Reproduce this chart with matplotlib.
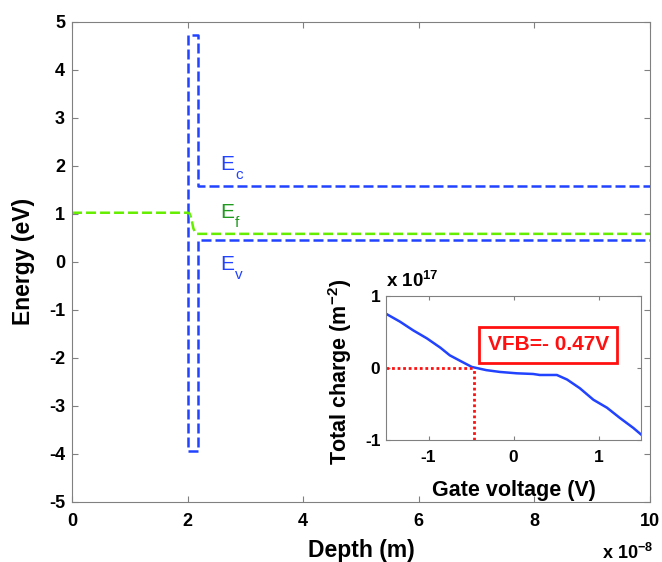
import numpy as np
import matplotlib
matplotlib.use("Agg")
import matplotlib.pyplot as plt

plt.rcParams['font.family'] = ['Liberation Sans', 'DejaVu Sans']
plt.rcParams['mathtext.fontset'] = 'custom'
plt.rcParams['mathtext.rm'] = 'Liberation Sans'
plt.rcParams['mathtext.bf'] = 'Liberation Sans:bold'
plt.rcParams['mathtext.it'] = 'Liberation Sans:italic'
plt.rcParams['axes.unicode_minus'] = False

# band diagram (depth in units of 1e-8 m, energy in eV)
ec_x = [2.0, 2.0, 2.18, 2.18, 10.0]
ec_y = [1.02, 4.73, 4.73, 1.58, 1.58]
ev_x = [2.0, 2.0, 2.18, 2.18, 10.0]
ev_y = [1.02, -3.95, -3.95, 0.46, 0.46]
ef_x = [0.0, 2.0, 2.03, 2.05, 2.07, 2.10, 2.13, 2.16, 10.0]
ef_y = [1.02, 1.02, 1.01, 0.95, 0.86, 0.69, 0.61, 0.58, 0.58]

# inset: total charge (x 1e17 m^-2) vs gate voltage (V)
vg = [-1.5, -1.335, -1.18, -1.02, -0.86, -0.75, -0.63, -0.49, -0.32, -0.16,
      0.04, 0.23, 0.31, 0.51, 0.63, 0.78, 0.94, 1.10, 1.25, 1.41, 1.5]
qt = [0.75, 0.64, 0.52, 0.41, 0.28, 0.175, 0.10, 0.014, -0.03, -0.055,
      -0.074, -0.083, -0.097, -0.097, -0.16, -0.28, -0.44, -0.55, -0.69, -0.83, -0.92]
vfb = -0.47

blue = '#2142ff'
lime = '#66ee00'
dkgreen = '#1f9a1f'
red = '#ff1010'
gray = '#808080'

fig = plt.figure(figsize=(6.62, 5.62), dpi=100)
ax = fig.add_axes([0.1088, 0.1073, 0.8731, 0.8541])

ax.plot(ec_x, ec_y, color=blue, lw=1.8, ls=(0, (4, 1.6)))
ax.plot(ev_x, ev_y, color=blue, lw=1.8, ls=(0, (4, 1.6)))
ax.plot(ef_x, ef_y, color=lime, lw=1.8, ls=(0, (4, 1.6)))

# band labels: big E with a dropped subscript
band_labels = [('c', 1.90, blue), ('f', 0.90, dkgreen), ('v', -0.18, blue)]
for sub, yb, col in band_labels:
    ax.text(2.57, yb, 'E', color=col, fontsize=15, va='baseline')
    ax.annotate(sub, xy=(2.57, yb), xytext=(10.3, -6), textcoords='offset points',
                color=col, fontsize=11, va='baseline')

ax.set_xlim(0, 10)
ax.set_ylim(-5, 5)
ax.set_xticks(np.arange(0, 11, 2))
ax.set_yticks(np.arange(-5, 6, 1))
ax.tick_params(direction='in', top=True, right=True, length=4, color=gray,
               labelsize=13)
ax.tick_params(axis='x', pad=8)
ax.tick_params(axis='y', pad=5)
for lab in ax.get_xticklabels() + ax.get_yticklabels():
    lab.set_fontweight('bold')
for s in ax.spines.values():
    s.set_color(gray)
ax.set_xlabel('Depth (m)', fontsize=16.5, fontweight='bold')
ax.set_ylabel('Energy (eV)', fontsize=16.5, fontweight='bold')
ax.xaxis.set_label_coords(0.5, -0.078)
ax.yaxis.set_label_coords(-0.064, 0.5)
fig.text(0.986, 0.006, r'x 10$^{\mathbf{-8}}$', ha='right', va='baseline',
         fontsize=13, fontweight='bold')

# inset
ax2 = fig.add_axes([0.5831, 0.2166, 0.3852, 0.2573])
ax2.plot(vg, qt, color=blue, lw=1.8)
ax2.plot([-1.5, vfb], [0, 0], color=red, lw=2, ls=(0, (1, 1)))
ax2.plot([vfb, vfb], [-1, 0], color=red, lw=2, ls=(0, (1, 1)))
ax2.text(0.41, 0.32, 'VFB=- 0.47V', color=red, fontsize=15, fontweight='bold',
         ha='center', va='center',
         bbox=dict(boxstyle='square,pad=0.4', fc='white', ec=red, lw=2))
ax2.set_xlim(-1.5, 1.5)
ax2.set_ylim(-1, 1)
ax2.set_xticks([-1, 0, 1])
ax2.set_yticks([-1, 0, 1])
ax2.tick_params(direction='in', top=True, right=True, length=3, color=gray,
                labelsize=12.5)
ax2.tick_params(axis='x', pad=7)
ax2.tick_params(axis='y', pad=4)
for lab in ax2.get_xticklabels() + ax2.get_yticklabels():
    lab.set_fontweight('bold')
for s in ax2.spines.values():
    s.set_color(gray)
ax2.set_xlabel('Gate voltage (V)', fontsize=15.5, fontweight='bold')
ax2.set_ylabel(r'Total charge (m$^{\mathbf{-2}}$)', fontsize=15.5, fontweight='bold')
ax2.xaxis.set_label_coords(0.5, -0.275)
ax2.yaxis.set_label_coords(-0.125, 0.47)
ax2.text(0.0, 1.06, r'x 10$^{\mathbf{17}}$', transform=ax2.transAxes,
         fontsize=13.5, fontweight='bold', va='baseline')

fig.savefig('out.png', dpi=100)
